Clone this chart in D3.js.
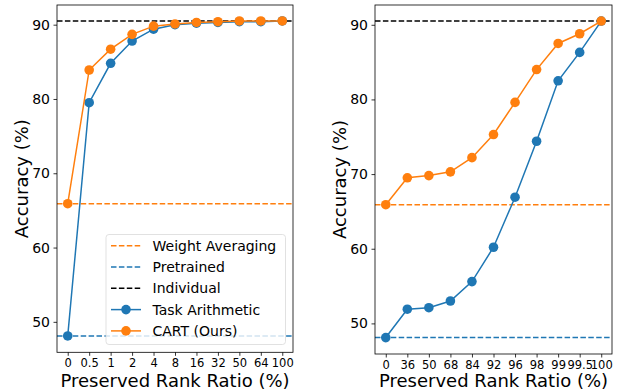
<!DOCTYPE html>
<html>
<head>
<meta charset="utf-8">
<script src="https://cdn.jsdelivr.net/npm/d3@7"></script>
<style>
body { margin: 0; background: #fff; }
svg text { font-family: "DejaVu Sans", sans-serif; fill: #000; }
</style>
</head>
<body>
<div id="canvas"></div>
<script>
// left panel: preserved rank ratio for CART (log-ish steps)
var leftLabels = ["0", "0.5", "1", "2", "4", "8", "16", "32", "50", "64", "100"];
var leftTaskArith = [48.1, 79.5, 84.8, 87.8, 89.4, 90.0, 90.2, 90.3, 90.4, 90.4, 90.5];
var leftCart = [65.9, 83.9, 86.7, 88.7, 89.8, 90.1, 90.3, 90.4, 90.5, 90.5, 90.5];

// right panel
var rightLabels = ["0", "36", "50", "68", "84", "92", "96", "98", "99", "99.5", "100"];
var rightTaskArith = [48.1, 51.9, 52.1, 53.0, 55.6, 60.2, 66.9, 74.4, 82.5, 86.3, 90.5];
var rightCart = [65.9, 69.5, 69.8, 70.3, 72.2, 75.3, 79.6, 84.0, 87.5, 88.8, 90.5];

// reference lines
var weightAveraging = 65.9;
var pretrained = 48.1;
var individual = 90.5;

var yTicks = [50, 60, 70, 80, 90];

var BLUE = "#1f77b4", ORANGE = "#ff7f0e";
var w = 624, h = 390;

var svg = d3.select("#canvas")
	.append("svg")
	.attr("width", w)
	.attr("height", h);

function drawPanel(box, labels, taskArith, cart, showLegend){
	var x = d3.scaleLinear()
		.domain([-0.5, labels.length - 0.5])
		.range([box.left, box.right]);
	var y = d3.scaleLinear()
		.domain([45.9, 92.65])
		.range([box.bottom, box.top]);

	var id = "clip" + box.left;
	svg.append("clipPath")
		.attr("id", id)
		.append("rect")
		.attr("x", box.left)
		.attr("y", box.top)
		.attr("width", box.right - box.left)
		.attr("height", box.bottom - box.top);

	var plot = svg.append("g").attr("clip-path", "url(#" + id + ")");

	var hlines = [
		{v: weightAveraging, c: ORANGE},
		{v: pretrained, c: BLUE},
		{v: individual, c: "#000"}
	];
	plot.selectAll(".hline")
		.data(hlines)
		.enter()
		.append("line")
		.attr("x1", box.left)
		.attr("x2", box.right)
		.attr("y1", function(d){ return y(d.v); })
		.attr("y2", function(d){ return y(d.v); })
		.attr("stroke", function(d){ return d.c; })
		.attr("stroke-width", 1.5)
		.attr("stroke-dasharray", "5.5,2.4");

	var line = d3.line()
		.x(function(d, i){ return x(i); })
		.y(function(d){ return y(d); });

	[{data: taskArith, c: BLUE}, {data: cart, c: ORANGE}].forEach(function(s){
		plot.append("path")
			.attr("d", line(s.data))
			.attr("fill", "none")
			.attr("stroke", s.c)
			.attr("stroke-width", 1.5);
		plot.selectAll(null)
			.data(s.data)
			.enter()
			.append("circle")
			.attr("cx", function(d, i){ return x(i); })
			.attr("cy", function(d){ return y(d); })
			.attr("r", 4.8)
			.attr("fill", s.c);
	});

	// axes
	var xAxis = d3.axisBottom(x)
		.tickValues(d3.range(labels.length))
		.tickFormat(function(d){ return labels[d]; })
		.tickSize(3.5)
		.tickPadding(3);
	var gx = svg.append("g")
		.attr("transform", "translate(0," + box.bottom + ")")
		.call(xAxis);
	var yAxis = d3.axisLeft(y)
		.tickValues(yTicks)
		.tickSize(3.5)
		.tickPadding(3.5);
	var gy = svg.append("g")
		.attr("transform", "translate(" + box.left + ",0)")
		.call(yAxis);
	[gx, gy].forEach(function(g){
		g.select(".domain").remove();
		g.selectAll(".tick line").attr("stroke", "#000").attr("stroke-width", 0.8);
		g.selectAll(".tick text")
			.attr("font-family", "DejaVu Sans")
			.attr("fill", "#000");
	});
	gx.selectAll(".tick text").attr("font-size", 11.5);
	gy.selectAll(".tick text").attr("font-size", 14);

	svg.append("rect")
		.attr("x", box.left)
		.attr("y", box.top)
		.attr("width", box.right - box.left)
		.attr("height", box.bottom - box.top)
		.attr("fill", "none")
		.attr("stroke", "#000")
		.attr("stroke-width", 0.8);

	svg.append("text")
		.attr("x", (box.left + box.right) / 2)
		.attr("y", 386.5)
		.attr("text-anchor", "middle")
		.attr("font-size", 18)
		.text("Preserved Rank Ratio (%)");

	svg.append("text")
		.attr("transform", "translate(" + (box.left - 29) + "," + ((box.top + box.bottom) / 2) + ") rotate(-90)")
		.attr("text-anchor", "middle")
		.attr("font-size", 18)
		.text("Accuracy (%)");

	if(showLegend){
		var lg = svg.append("g");
		lg.append("rect")
			.attr("x", 106)
			.attr("y", 234.5)
			.attr("width", 179.5)
			.attr("height", 110)
			.attr("rx", 3)
			.attr("fill", "#fff")
			.attr("fill-opacity", 0.8)
			.attr("stroke", "#d9d9d9")
			.attr("stroke-width", 0.8);
		var items = [
			{t: "Weight Averaging", c: ORANGE, dash: true},
			{t: "Pretrained", c: BLUE, dash: true},
			{t: "Individual", c: "#000", dash: true},
			{t: "Task Arithmetic", c: BLUE, dash: false},
			{t: "CART (Ours)", c: ORANGE, dash: false}
		];
		var rows = lg.selectAll(".row")
			.data(items)
			.enter()
			.append("g")
			.attr("transform", function(d, i){ return "translate(0," + (245.7 + i * 21.3) + ")"; });
		rows.append("line")
			.attr("x1", 111)
			.attr("x2", 141)
			.attr("stroke", function(d){ return d.c; })
			.attr("stroke-width", 1.5)
			.attr("stroke-dasharray", function(d){ return d.dash ? "5.5,2.4" : null; });
		rows.filter(function(d){ return !d.dash; })
			.append("circle")
			.attr("cx", 126)
			.attr("r", 4.8)
			.attr("fill", function(d){ return d.c; });
		rows.append("text")
			.attr("x", 152.5)
			.attr("y", 5)
			.attr("font-size", 14)
			.text(function(d){ return d.t; });
	}
}

drawPanel({left: 57, right: 293, top: 5, bottom: 352.3}, leftLabels, leftTaskArith, leftCart, true);
drawPanel({left: 375, right: 612, top: 5, bottom: 354}, rightLabels, rightTaskArith, rightCart, false);
</script>
</body>
</html>
